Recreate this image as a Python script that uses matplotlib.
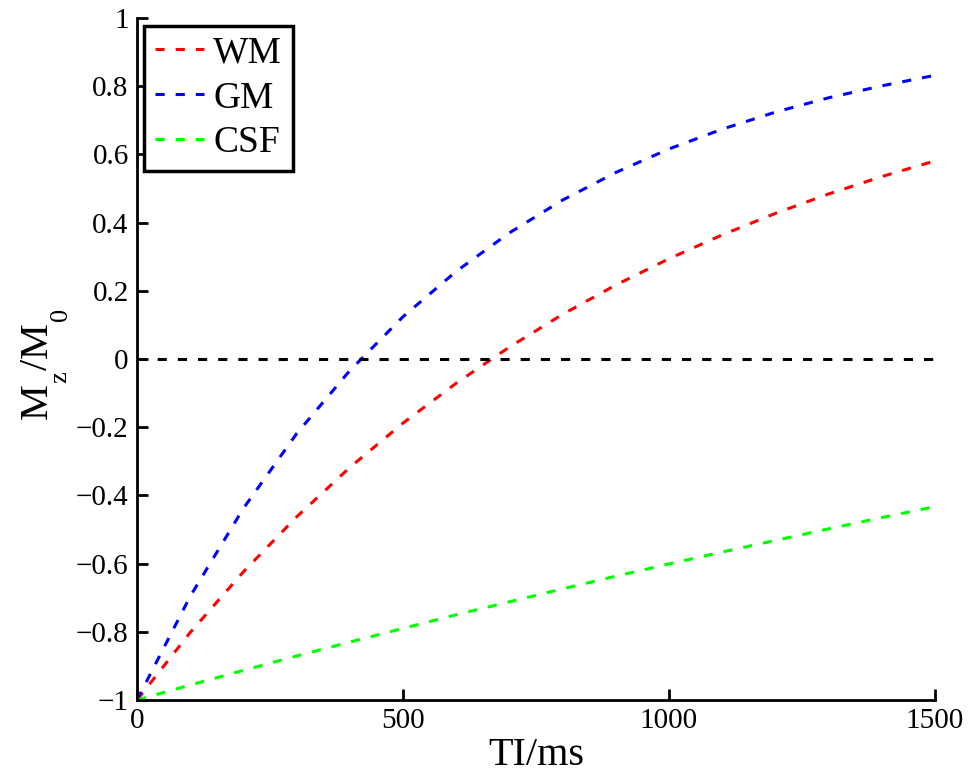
import matplotlib
matplotlib.use("Agg")
import matplotlib.pyplot as plt

plt.rcParams['font.family'] = ['Liberation Serif', 'DejaVu Serif']

ti = [0, 100, 200, 300, 400, 500, 600, 700, 800, 900, 1000, 1100, 1200, 1300, 1400, 1500]
wm = [-1.0, -0.802, -0.624, -0.463, -0.318, -0.188, -0.071, 0.035, 0.131, 0.217,
      0.294, 0.364, 0.427, 0.484, 0.535, 0.581]
gm = [-1.0, -0.696, -0.438, -0.219, -0.034, 0.124, 0.257, 0.370, 0.466, 0.547,
      0.616, 0.674, 0.724, 0.766, 0.801, 0.832]
csf = [-1.0, -0.956, -0.913, -0.871, -0.830, -0.790, -0.750, -0.712, -0.674, -0.637,
       -0.601, -0.566, -0.532, -0.498, -0.465, -0.433]
zero_x = [0, 1500]
zero_y = [0, 0]
xticks = [0, 500, 1000, 1500]
yticks = [-1, -0.8, -0.6, -0.4, -0.2, 0, 0.2, 0.4, 0.6, 0.8, 1]
ytick_labels = ['\u22121', '\u22120.8', '\u22120.6', '\u22120.4', '\u22120.2', '0',
                '0.2', '0.4', '0.6', '0.8', '1']

W, H = 970, 774
fig = plt.figure(figsize=(W / 100, H / 100), dpi=100)
ax = fig.add_axes([137 / W, 1 - 700 / H, (935 - 137) / W, (700 - 18) / H])

dash = (0, (3.0, 3.6))
ax.plot(ti, wm, color='#ff0000', lw=2.2, ls=dash, label='WM')
ax.plot(ti, gm, color='#0000ff', lw=2.2, ls=dash, label='GM')
ax.plot(ti, csf, color='#00ff00', lw=2.2, ls=dash, label='CSF')
ax.plot(zero_x, zero_y, color='black', lw=2.2, ls=dash)

ax.set_xlim(0, 1500)
ax.set_ylim(-1, 1)
ax.set_xticks(xticks)
ax.set_yticks(yticks)
ax.set_yticklabels(ytick_labels)
ax.spines['top'].set_visible(False)
ax.spines['right'].set_visible(False)
ax.spines['left'].set_linewidth(2)
ax.spines['bottom'].set_linewidth(2)
ax.tick_params(direction='in', length=8, width=2, labelsize=21, pad=6)

ax.set_xlabel('TI/ms', fontsize=29, labelpad=2)

# y label: M_z /M_0 with deep subscripts, built from pieces (pixel positions)
def ytext(s, xb, yb, size):
    fig.text(xb / W, 1 - yb / H, s, rotation=90, rotation_mode='anchor',
             ha='left', va='baseline', fontsize=size)

ytext('M', 47, 419, 29)
ytext('z', 66, 383, 19)
ytext('/', 47, 370, 29)
ytext('M', 47, 358, 29)
ytext('0', 67, 321, 19)

leg = ax.legend(loc='upper left', fontsize=27, handlelength=1.3, handletextpad=0.25,
                borderpad=0.28, labelspacing=0.28, fancybox=False, framealpha=1,
                borderaxespad=0.2)
leg.get_frame().set_edgecolor('black')
leg.get_frame().set_linewidth(2.5)

fig.savefig('out.png', dpi=100)
